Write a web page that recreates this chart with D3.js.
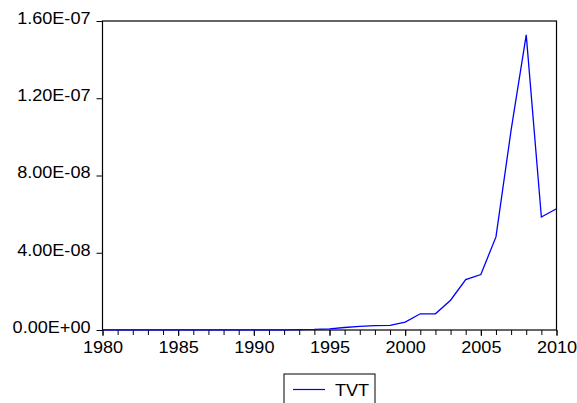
<!DOCTYPE html>
<html>
<head>
<meta charset="utf-8">
<script src="https://cdn.jsdelivr.net/npm/d3@7/dist/d3.min.js"></script>
<style>
  body { margin: 0; background: #fff; }
  svg { display: block; font-family: "Liberation Sans", Arial, sans-serif; }
</style>
</head>
<body>
<svg id="chart" width="577" height="403"></svg>
<script>
// years and the TVT series
const years = d3.range(1980, 2011);
const tvt = [
  0.1e-9, 0.1e-9, 0.1e-9, 0.1e-9, 0.1e-9, 0.1e-9, 0.1e-9, 0.1e-9, 0.1e-9, 0.1e-9,
  0.1e-9, 0.1e-9, 0.1e-9, 0.2e-9, 0.3e-9, 0.6e-9, 1.3e-9, 1.9e-9, 2.3e-9, 2.4e-9,
  4.1e-9, 8.4e-9, 8.4e-9, 15.4e-9, 26.1e-9, 28.7e-9, 48.2e-9, 103.5e-9, 152.8e-9, 58.5e-9,
  62.8e-9
];
const yTicks = [0, 4e-8, 8e-8, 1.2e-7, 1.6e-7];
const yTickLabels = ['0.00E+00', '4.00E-08', '8.00E-08', '1.20E-07', '1.60E-07'];
const xTicks = [1980, 1985, 1990, 1995, 2000, 2005, 2010];
const seriesName = 'TVT';

const svg = d3.select('#chart');
const plotLeft = 102.5, plotRight = 556.5, plotTop = 21, plotBottom = 330;

let x = d3.scaleLinear().domain([1980, 2010]).range([plotLeft, plotRight]);
let y = d3.scaleLinear().domain([0, 1.6e-7]).range([plotBottom, plotTop]);

/// the original text is a bit wider than Liberation Sans, stretch it
function widen(sel) {
  sel.each(function() {
    const w = this.getComputedTextLength();
    d3.select(this).attr('textLength', w * 1.13).attr('lengthAdjust', 'spacingAndGlyphs');
  });
}

/// minor year ticks along the bottom
svg.append('g')
  .attr('transform', `translate(0,${plotBottom})`)
  .call(d3.axisBottom(x).tickValues(years).tickSize(5).tickFormat(''))
  .call(g => g.select('.domain').remove())
  .call(g => g.selectAll('line').attr('stroke', '#000'));

/// major x ticks with labels
svg.append('g')
  .attr('transform', `translate(0,${plotBottom})`)
  .call(d3.axisBottom(x).tickValues(xTicks).tickSize(6).tickPadding(6).tickFormat(d3.format('d')))
  .call(g => g.select('.domain').remove())
  .call(g => g.selectAll('line').attr('stroke', '#000'))
  .call(g => g.selectAll('text').attr('font-size', 16).attr('fill', '#000')
    .attr('font-family', '"Liberation Sans", Arial, sans-serif').call(widen));

/// y axis
svg.append('g')
  .attr('transform', `translate(${plotLeft},0)`)
  .call(d3.axisLeft(y).tickValues(yTicks).tickSize(6).tickPadding(6)
    .tickFormat((d, i) => yTickLabels[i]))
  .call(g => g.select('.domain').remove())
  .call(g => g.selectAll('line').attr('stroke', '#000'))
  .call(g => g.selectAll('text').attr('font-size', 16).attr('fill', '#000').attr('dy', '0.15em')
    .attr('font-family', '"Liberation Sans", Arial, sans-serif').call(widen));

// plot frame
svg.append('rect')
  .attr('x', plotLeft).attr('y', plotTop)
  .attr('width', plotRight - plotLeft).attr('height', plotBottom - plotTop)
  .attr('fill', 'none').attr('stroke', '#000').attr('stroke-width', 1.2);

const line = d3.line()
  .x((d, i) => x(years[i]))
  .y(d => y(d));

svg.append('path')
  .datum(tvt)
  .attr('fill', 'none')
  .attr('stroke', '#0000ff')
  .attr('stroke-width', 1.3)
  .attr('d', line);

// legend
const legend = svg.append('g').attr('transform', 'translate(284,374)');
legend.append('rect')
  .attr('width', 91).attr('height', 40)
  .attr('fill', '#fff').attr('stroke', '#000').attr('stroke-width', 1);
legend.append('line')
  .attr('x1', 9).attr('x2', 41).attr('y1', 15.5).attr('y2', 15.5)
  .attr('stroke', '#0000ff').attr('stroke-width', 1.2);
legend.append('text')
  .attr('x', 51).attr('y', 22)
  .attr('font-size', 16)
  .text(seriesName)
  .call(widen);
</script>
</body>
</html>
